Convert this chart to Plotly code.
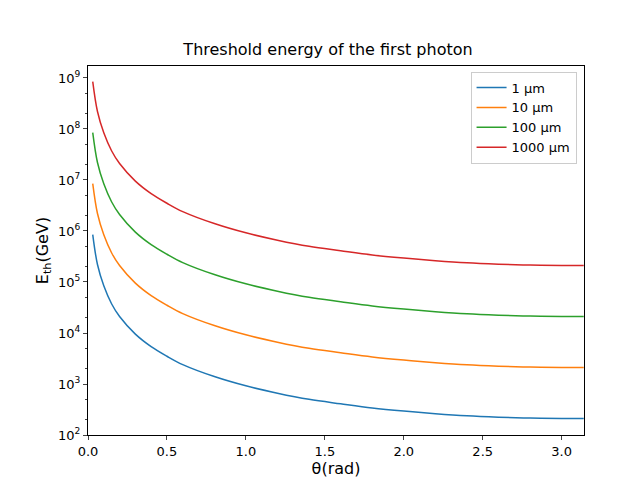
import plotly.graph_objects as go

theta = [0.03, 0.06, 0.1, 0.15, 0.2, 0.3, 0.4, 0.5, 0.6, 0.8, 1.0, 1.2, 1.4,
         1.6, 1.8, 2.0, 2.2, 2.4, 2.6, 2.8, 3.0, 3.14]
e_1um = [8.5e5, 2.2e5, 8.4e4, 3.7e4, 2.1e4, 9.5e3, 5.4e3, 3.5e3, 2.4e3, 1.4e3,
         9.2e2, 6.6e2, 5.0e2, 4.1e2, 3.4e2, 2.95e2, 2.62e2, 2.38e2, 2.24e2, 2.15e2, 2.11e2, 2.1e2]
e_10um = [8.5e6, 2.2e6, 8.4e5, 3.7e5, 2.1e5, 9.5e4, 5.4e4, 3.5e4, 2.4e4, 1.4e4,
          9.2e3, 6.6e3, 5.0e3, 4.1e3, 3.4e3, 2.95e3, 2.62e3, 2.38e3, 2.24e3, 2.15e3, 2.11e3, 2.1e3]
e_100um = [8.5e7, 2.2e7, 8.4e6, 3.7e6, 2.1e6, 9.5e5, 5.4e5, 3.5e5, 2.4e5, 1.4e5,
           9.2e4, 6.6e4, 5.0e4, 4.1e4, 3.4e4, 2.95e4, 2.62e4, 2.38e4, 2.24e4, 2.15e4, 2.11e4, 2.1e4]
e_1000um = [8.5e8, 2.2e8, 8.4e7, 3.7e7, 2.1e7, 9.5e6, 5.4e6, 3.5e6, 2.4e6, 1.4e6,
            9.2e5, 6.6e5, 5.0e5, 4.1e5, 3.4e5, 2.95e5, 2.62e5, 2.38e5, 2.24e5, 2.15e5, 2.11e5, 2.1e5]
names = ["1 μm", "10 μm", "100 μm", "1000 μm"]
colors = ["#1f77b4", "#ff7f0e", "#2ca02c", "#d62728"]

fig = go.Figure()
for name, ys, c in zip(names, [e_1um, e_10um, e_100um, e_1000um], colors):
    fig.add_trace(go.Scatter(x=theta, y=ys, mode="lines", name=name,
                             line=dict(color=c, width=1.5, shape="spline")))

exps = list(range(2, 10))
fig.update_layout(
    width=640, height=480, plot_bgcolor="white", paper_bgcolor="white",
    margin=dict(l=80, r=64, t=58, b=53, autoexpand=False),
    font=dict(family="DejaVu Sans", size=13, color="black"),
    title=dict(text="Threshold energy of the first photon", x=0.5, xanchor="center",
               y=0.925, font=dict(size=16)),
    showlegend=True,
    legend=dict(x=0.985, y=0.985, xanchor="right", yanchor="top",
                bordercolor="#cccccc", borderwidth=1, font=dict(size=13)),
    xaxis=dict(range=[0, 3.1416], tickvals=[0, 0.5, 1, 1.5, 2, 2.5, 3],
               ticktext=["0.0", "0.5", "1.0", "1.5", "2.0", "2.5", "3.0"],
               ticks="outside", ticklen=4, showgrid=False, zeroline=False,
               showline=True, linecolor="black", mirror=True, automargin=False,
               title=dict(text="θ(rad)", standoff=5)),
    yaxis=dict(type="log", range=[2, 9.235], tickvals=[10 ** e for e in exps],
               ticktext=[f"10<sup>{e}</sup>" for e in exps],
               ticks="outside", ticklen=4, showgrid=False, zeroline=False,
               showline=True, linecolor="black", mirror=True, automargin=False,
               minor=dict(ticks="outside", ticklen=2, showgrid=False),
               title=dict(text="E<sub>th</sub>(GeV)", standoff=5)),
)
fig.write_html("out.html")
